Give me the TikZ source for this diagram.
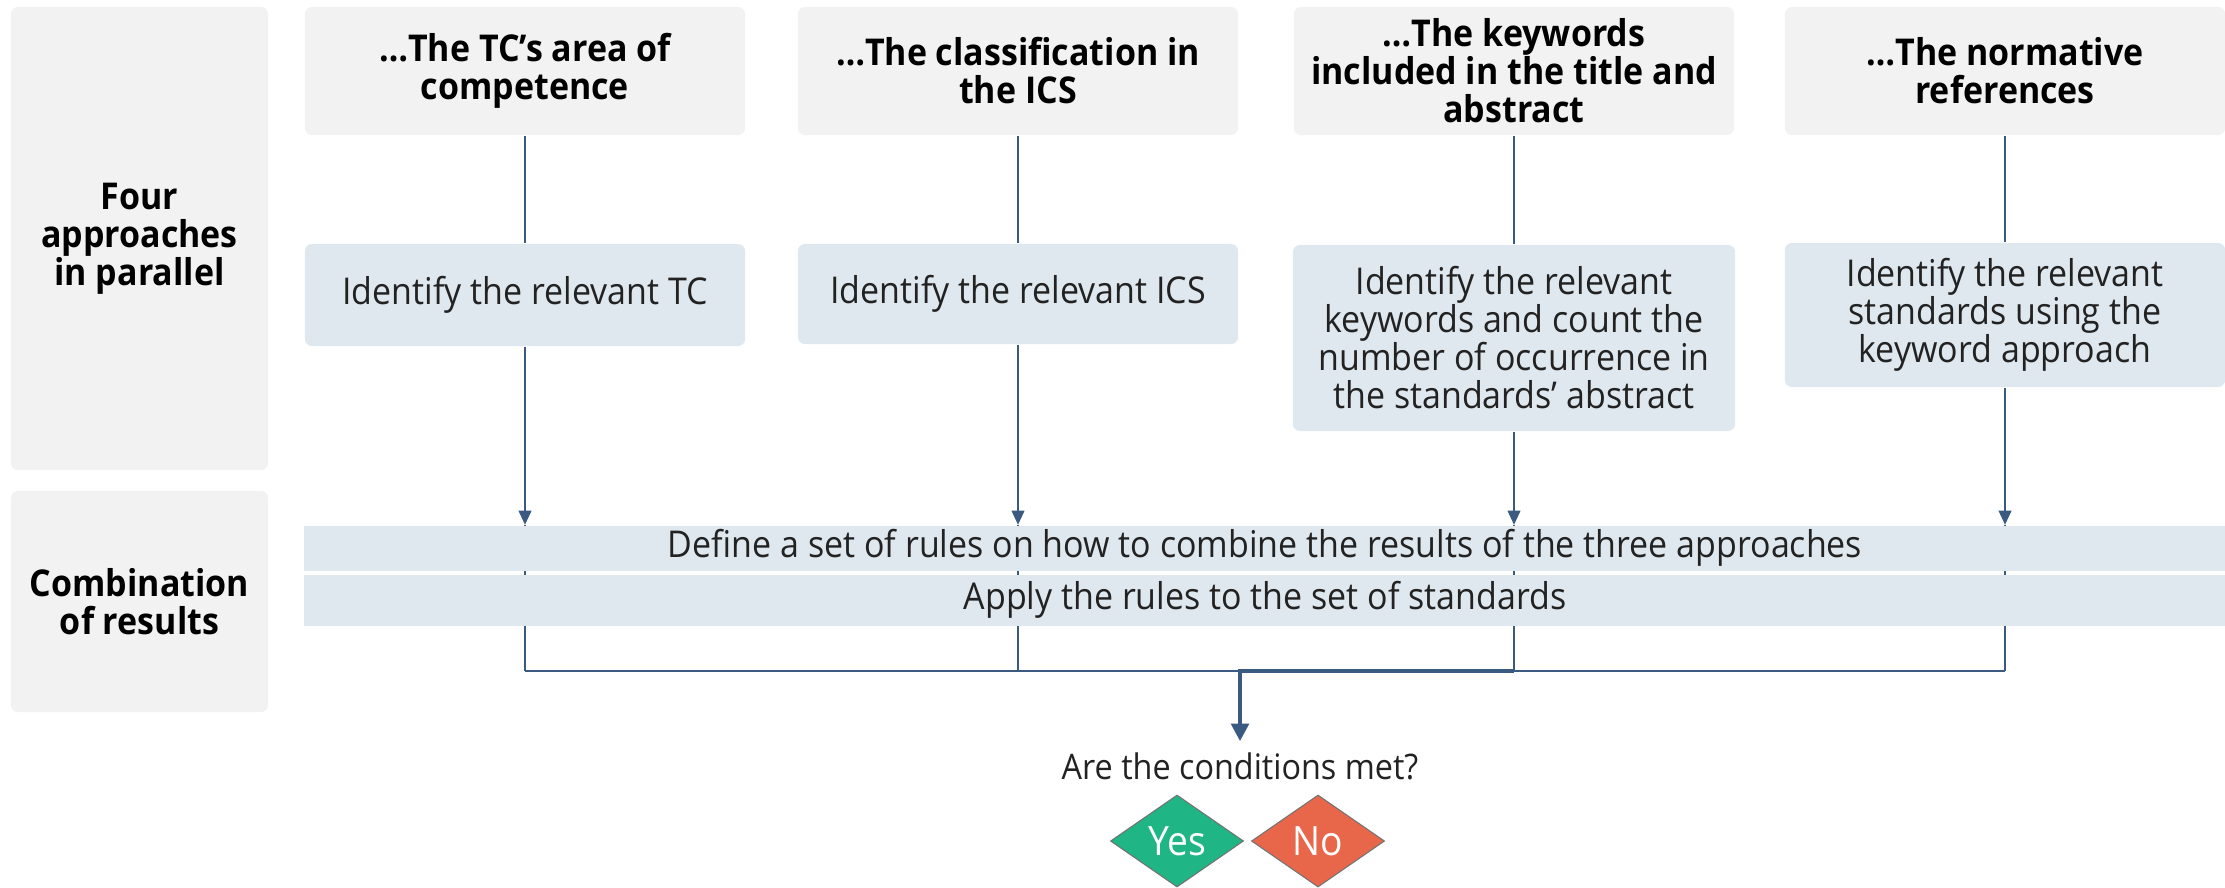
\documentclass[tikz,border=0pt]{standalone}
\usepackage{fontspec}
\setmainfont{Open Sans}[FakeStretch=0.92]
\usetikzlibrary{arrows.meta,shapes.geometric,backgrounds}
\definecolor{panelgray}{HTML}{F2F2F2}
\definecolor{stepblue}{HTML}{DFE8EF}
\definecolor{flowline}{HTML}{3A5A82}
\definecolor{yesgreen}{HTML}{1FB584}
\definecolor{nored}{HTML}{E8674B}
\definecolor{inktext}{HTML}{222222}

\begin{document}
\begin{tikzpicture}[x=0.01cm,y=-0.01cm,
  panel/.style={fill=panelgray, rounded corners=2pt, inner sep=0pt, align=center,
    font=\bfseries\fontsize{10.5}{10.8}\selectfont, text=black},
  stepbox/.style={fill=stepblue, rounded corners=2pt, inner sep=0pt, align=center,
    font=\fontsize{10.5}{10.8}\selectfont, text=inktext},
  band/.style={fill=stepblue, inner sep=0pt, align=center,
    font=\fontsize{10.5}{10.8}\selectfont, text=inktext,
    minimum width=19.20cm},
  flow/.style={draw=flowline, line width=0.5pt},
  flowarrow/.style={flow, -{Triangle[length=4pt,width=3.6pt]}},
  thickarrow/.style={draw=flowline, line width=1.1pt, -{Triangle[length=5pt,width=5pt]}},
  answer/.style={diamond, inner sep=0pt, minimum width=1.33cm, minimum height=0.92cm,
    text=white, font=\fontsize{11.5}{12}\selectfont, draw=black!55, line width=0.3pt}
]
\useasboundingbox (0,0) rectangle (2225,887);

% row labels
\node[panel, minimum width=2.57cm, minimum height=4.63cm] (rowA) at (139.5,238.5)
  {Four\\approaches\\in parallel};
\node[panel, minimum width=2.57cm, minimum height=2.21cm] (rowB) at (139.5,601.5)
  {Combination\\of results};

% column headers
\node[panel, minimum width=4.40cm, minimum height=1.28cm] (h1) at (525,71)
  {…The TC’s area of\\competence};
\node[panel, minimum width=4.40cm, minimum height=1.28cm] (h2) at (1018,71)
  {…The classification in\\the ICS};
\node[panel, minimum width=4.40cm, minimum height=1.28cm] (h3) at (1514,71)
  {…The keywords\\included in the title and\\abstract};
\node[panel, minimum width=4.40cm, minimum height=1.28cm] (h4) at (2005,71)
  {…The normative\\references};

% approach steps
\node[stepbox, minimum width=4.40cm, minimum height=1.02cm] (m1) at (525,295)
  {Identify the relevant TC};
\node[stepbox, minimum width=4.40cm, minimum height=1.00cm] (m2) at (1018,294)
  {Identify the relevant ICS};
\node[stepbox, minimum width=4.42cm, minimum height=1.86cm] (m3) at (1514,338)
  {Identify the relevant\\keywords and count the\\number of occurrence in\\the standards’ abstract};
\node[stepbox, minimum width=4.40cm, minimum height=1.44cm] (m4) at (2005,315)
  {Identify the relevant\\standards using the\\keyword approach};

% combination steps
\node[band, minimum height=0.45cm] (b1) at (1265,548)
  {Define a set of rules on how to combine the results of the three approaches};
\node[band, minimum height=0.51cm] (b2) at (1265,600)
  {Apply the rules to the set of standards};

% decision
\coordinate (bus) at (0,671);
\coordinate (split) at (1240,671);
\node[inner sep=3pt, font=\fontsize{10}{10.8}\selectfont, text=inktext] (q) at (1240,766)
  {Are the conditions met?};
\node[answer, fill=yesgreen] (yes) at (1177,841) {Yes};
\node[answer, fill=nored] (no) at (1318,841) {No};

% links from headers to steps
\foreach \i in {1,...,4} {
  \draw[flow] (h\i.south) -- (m\i.north);
  \draw[flowarrow] (m\i.south) -- (m\i.south |- b1.north);
}

% verticals running behind the bands, and the collecting line
\begin{scope}[on background layer]
  \foreach \i in {1,...,4} {
    \draw[flow] (m\i.south |- b1.north) -- (m\i.south |- bus);
  }
  \draw[flow] (m1.south |- bus) -- (m4.south |- bus);
\end{scope}

\draw[thickarrow] (m3.south |- bus) -- (split) -- (split |- q.north);

\end{tikzpicture}
\end{document}
